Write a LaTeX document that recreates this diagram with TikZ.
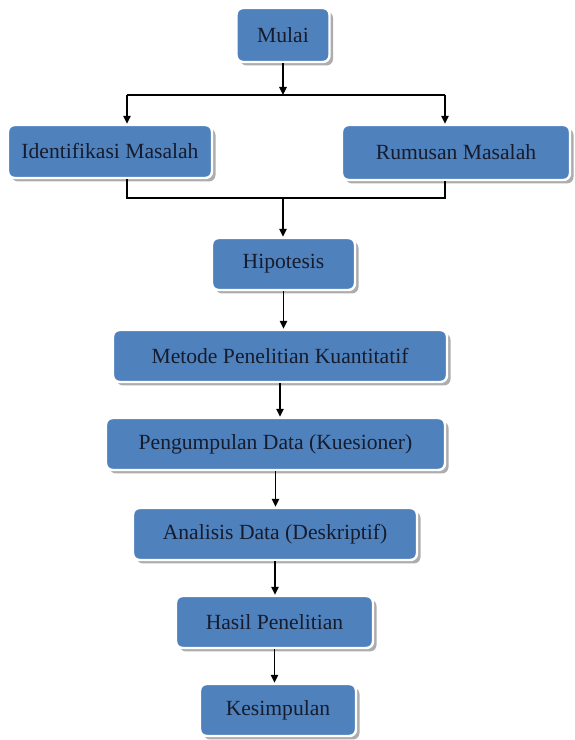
\documentclass[tikz,border=0pt]{standalone}
\usepackage{fontspec}
\setmainfont{Liberation Serif}
\usetikzlibrary{arrows.meta,shadows}
\definecolor{boxblue}{RGB}{79,129,189}
\definecolor{inkc}{RGB}{22,28,45}

\begin{document}
\begin{tikzpicture}[
  >={Triangle[length=1.6mm,width=1.5mm]},
  every node/.style={font=\fontsize{12.3}{14}\selectfont, text=inkc},
  stepbox/.style={rectangle, rounded corners=1.3mm, draw=white, line width=1.4pt,
             fill=boxblue, inner sep=2pt,
             drop shadow={shadow xshift=0.7mm, shadow yshift=-0.7mm, fill=black!40, opacity=0.8}},
  link/.style={->, line width=0.9pt, black},
  bar/.style={-, line width=0.9pt, black},
]
\useasboundingbox (0,0) rectangle (11.5,14.8);

\node[stepbox, minimum width=1.86cm, minimum height=1.08cm] (mulai) at (5.66,14.10) {Mulai};
\node[stepbox, minimum width=4.08cm, minimum height=1.06cm] (ident) at (2.20,11.77) {Identifikasi Masalah};
\node[stepbox, minimum width=4.56cm, minimum height=1.10cm] (rumus) at (9.12,11.75) {Rumusan Masalah};
\node[stepbox, minimum width=2.86cm, minimum height=1.04cm] (hipo) at (5.67,9.52) {Hipotesis};
\node[stepbox, minimum width=6.68cm, minimum height=1.04cm] (metode) at (5.60,7.68) {Metode Penelitian Kuantitatif};
\node[stepbox, minimum width=6.78cm, minimum height=1.04cm] (kumpul) at (5.51,5.92) {Pengumpulan Data (Kuesioner)};
\node[stepbox, minimum width=5.68cm, minimum height=1.04cm] (analisis) at (5.50,4.12) {Analisis Data (Deskriptif)};
\node[stepbox, minimum width=3.94cm, minimum height=1.04cm] (hasil) at (5.49,2.36) {Hasil Penelitian};
\node[stepbox, minimum width=3.12cm, minimum height=1.04cm] (simpul) at (5.56,0.60) {Kesimpulan};

% split after Mulai
\coordinate (jc) at (5.66,12.90);
\coordinate (jl) at (2.54,12.90);
\coordinate (jr) at (8.90,12.90);
\draw[link] (mulai) -- (jc);
\draw[bar] (jl) -- (jr);
\draw[link] (jl) -- (ident.north -| jl);
\draw[link] (jr) -- (rumus.north -| jr);

% merge into Hipotesis
\coordinate (kc) at (5.66,10.84);
\coordinate (kl) at (2.54,10.84);
\coordinate (kr) at (8.90,10.84);
\draw[bar] (ident.south -| kl) -- (kl) -- (kr) -- (rumus.south -| kr);
\draw[link] (kc) -- (hipo.north -| kc);

% main chain
\draw[link] (hipo.south) -- (metode.north -| hipo.south);
\draw[link] (metode.south) -- (kumpul.north -| metode.south);
\draw[link] (kumpul.south) -- (analisis.north -| kumpul.south);
\draw[link] (analisis.south) -- (hasil.north -| analisis.south);
\draw[link] (hasil.south) -- (simpul.north -| hasil.south);
\end{tikzpicture}
\end{document}
